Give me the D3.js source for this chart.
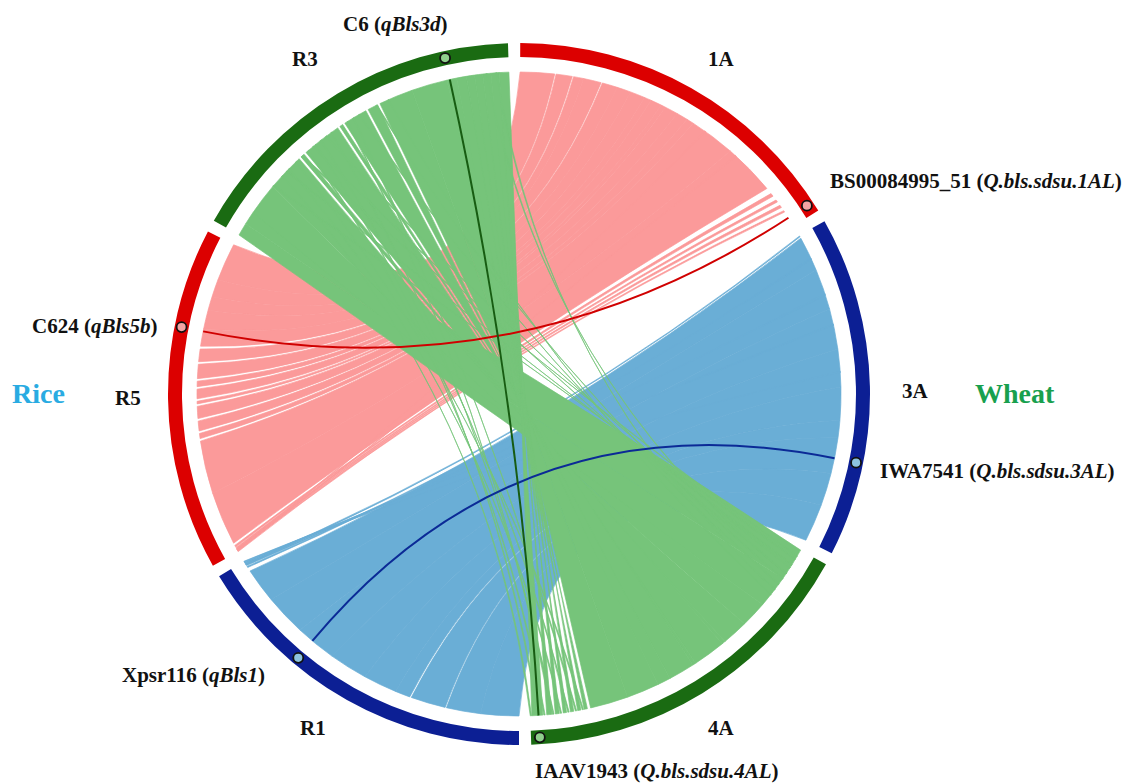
<!DOCTYPE html>
<html>
<head>
<meta charset="utf-8">
<script src="https://cdn.jsdelivr.net/npm/d3@7"></script>
<style>
  body { margin: 0; background: #fff; }
  text { font-family: "Liberation Serif", "Times New Roman", serif; font-weight: bold; }
</style>
</head>
<body>
<div id="chart"></div>
<script>
var chromNames = ["1A", "3A", "4A", "R1", "R5", "R3"];
var chromSizes = [58.3, 56.5, 59.0, 58.7, 56.9, 58.6];
var chromGroup = ["red", "blue", "green", "blue", "red", "green"];

// syntenic blocks, % along each chromosome: [src0, src1, tgt0, tgt1]
// src0 pairs with tgt0 and src1 with tgt1 (tgt0 > tgt1 = inverted block)
var links1A_R5 = [
  [0, 10.6, 100, 88], [11.0, 16, 88, 82.4], [16.4, 19.5, 82.4, 78],
  [19.5, 25, 78, 72], [25.4, 30.1, 72, 66.5], [30.1, 34.4, 65.6, 61.6],
  [34.4, 39.0, 60.8, 56.3], [39.0, 41.2, 55.5, 53.8], [41.2, 44.6, 53.0, 50.0],
  [44.6, 46.0, 49.2, 48.4], [46.0, 50.1, 47.6, 43.8], [50.1, 53.6, 43.0, 39.9],
  [53.6, 55.8, 39.1, 37.5], [55.8, 70, 36.7, 20], [70, 86, 20, 3],
  // thin strands near the end of 1A
  [88, 89, 2.2, 1.6], [90.5, 91.2, 1.4, 1.0], [92.5, 93.3, 0.9, 0.5], [94.5, 95.0, 0.4, 0.0],
  [60, 60.5, 1.0, 0.6], [72, 72.5, 0.5, 0.2]
];
var links3A_R1 = [
  [1, 12, 96.5, 85.8], [12, 25, 85.8, 73], [25, 38, 73, 60.5],
  [38, 50, 60.5, 48.7], [50, 60.5, 48.7, 38.4], [60.5, 66, 38.4, 33.8],
  [66, 77.5, 33.3, 22.6], [77.5, 88, 22.2, 11.7], [88, 100, 11.7, 0],
  // thin strands near the start of 3A
  [0.2, 0.5, 99.3, 98.8], [8, 8.5, 98.2, 97.8], [20, 20.6, 99, 98.5],
  [30, 30.5, 99.7, 99.3], [45, 45.5, 100, 99.7]
];
var linksR3_4A = [
  [0, 4, 20, 10], [4, 8, 10, 0],
  [8, 18, 20, 28], [18, 29.6, 28, 36], [30.4, 31.6, 36, 37], [32.4, 44.6, 37, 47],
  [45.4, 46.4, 47, 48], [47.2, 54.6, 48, 56], [55.4, 58.6, 56, 60],
  [59.4, 70, 60, 70], [70, 81, 70, 81.6],
  [81, 84, 82.6, 83.6], [84, 87, 84.6, 85.6], [87, 89.5, 86.8, 87.8],
  [89.5, 92, 89.0, 90.0], [92, 94.5, 91.2, 92.4], [94.5, 97, 93.6, 95.0],
  [97, 100, 96.2, 99.5],
  // scattered strands crossing the centre
  [25, 25.5, 90.5, 90.9], [33, 33.5, 95.5, 95.9], [38, 38.5, 88.2, 88.6],
  [42, 42.4, 92.8, 93.1], [50, 50.5, 85.9, 86.3], [22, 22.4, 99.6, 100],
  [28, 28.5, 83.8, 84.2], [36, 36.4, 97.5, 97.9], [48, 48.4, 93.2, 93.5],
  [18, 18.5, 3, 3.4], [24, 24.4, 5, 5.4], [30.5, 31, 2, 2.4], [35, 35.4, 8, 8.4],
  [40, 40.5, 6, 6.4], [52, 52.4, 12, 12.4], [58, 58.4, 10, 10.4], [62, 62.4, 16, 16.4],
  [93, 93.4, 8, 8.4], [96, 96.4, 14, 14.4]
];

// QTL markers: chromosome, position (%), marker name, QTL name
var qtlChrom = ["R3", "1A", "R5", "3A", "R1", "4A"];
var qtlPos = [81.9, 97.1, 71.2, 72.6, 68.0, 97.5];
var qtlMarker = ["C6", "BS00084995_51", "C624", "IWA7541", "Xpsr116", "IAAV1943"];
var qtlName = ["qBls3d", "Q.bls.sdsu.1AL", "qBls5b", "Q.bls.sdsu.3AL", "qBls1", "Q.bls.sdsu.4AL"];
// pairs of QTL indices joined by a highlight line
var qtlPairs = [[2, 1], [4, 3], [0, 5]];

var speciesNames = ["Rice", "Wheat"];

// ---- layout ----
var cx = 519, cy = 394;
var ringOuter = 351, ringInner = 337, chordR = 322;
var gapDeg = 2, offsetDeg = 0.2;
var HP = Math.PI / 2, TAU = Math.PI * 2;
var rad = Math.PI / 180;

var ringColor = { red: "#dc0000", blue: "#0c1f94", green: "#1a6b12" };
var linkColor = { red: "#fb9a9a", blue: "#6aaed6", green: "#76c47a" };
var lineColor = { red: "#d00000", blue: "#0b2a96", green: "#175c12" };
var dotColor = { red: "#f4a3a3", blue: "#8cc3df", green: "#8fcf8c" };
// bezier control radius (circos style, along the bisector of the shorter arc)
var bezierR = { red: 50, blue: 50, green: 30 };
// links closer than this to a diameter get their control point pulled to the centre
var purityDeg = { red: 0, blue: 0, green: 6 };

var total = d3.sum(chromSizes);
var unit = (360 - gapDeg * chromNames.length) / total;

// one linear scale per chromosome: % position -> angle (radians, 0 at top, clockwise)
var chromScale = {};
var acc = offsetDeg;
chromNames.forEach(function(name, i) {
  var a0 = acc, a1 = acc + chromSizes[i] * unit;
  chromScale[name] = d3.scaleLinear().domain([0, 100]).range([a0 * rad, a1 * rad]);
  acc = a1 + gapDeg;
});

var svg = d3.select("#chart")
  .append("svg")
  .attr("width", 1128)
  .attr("height", 784)
  .style("background", "#fff");

var g = svg.append("g").attr("transform", "translate(" + cx + "," + cy + ")");

function pt(a, r) { return [r * Math.sin(a), -r * Math.cos(a)]; }

function ctrl(a, b, grp) {
  var rb = bezierR[grp];
  var d = ((b - a) % TAU + TAU) % TAU;
  var span = d > Math.PI ? TAU - d : d;
  var mid = d > Math.PI ? a - span / 2 : a + span / 2;
  if (purityDeg[grp]) {
    rb *= Math.min(1, (Math.PI - span) / (purityDeg[grp] * rad));
  }
  return pt(mid, rb);
}

// ribbon: source arc s0->s1, curve s1->t1, target arc t1->t0, curve t0->s0
function linkPath(s0, s1, t0, t1, grp) {
  var p = d3.path();
  var ps0 = pt(s0, chordR), pt1 = pt(t1, chordR), c;
  p.moveTo(ps0[0], ps0[1]);
  p.arc(0, 0, chordR, s0 - HP, s1 - HP);
  c = ctrl(s1, t1, grp);
  p.quadraticCurveTo(c[0], c[1], pt1[0], pt1[1]);
  p.arc(0, 0, chordR, t1 - HP, t0 - HP, t0 < t1);
  c = ctrl(t0, s0, grp);
  p.quadraticCurveTo(c[0], c[1], ps0[0], ps0[1]);
  p.closePath();
  return p.toString();
}

function drawLinks(data, src, tgt, grp) {
  var sS = chromScale[src], tS = chromScale[tgt];
  g.append("g").selectAll("path")
    .data(data)
    .enter()
    .append("path")
    .attr("d", function(d) { return linkPath(sS(d[0]), sS(d[1]), tS(d[2]), tS(d[3]), grp); })
    .attr("fill", linkColor[grp])
    .attr("stroke", linkColor[grp])
    .attr("stroke-width", 0.7);
}

drawLinks(links1A_R5, "1A", "R5", "red");
drawLinks(links3A_R1, "3A", "R1", "blue");
drawLinks(linksR3_4A, "R3", "4A", "green");

// highlight lines between QTLs
qtlPairs.forEach(function(pair) {
  var a = chromScale[qtlChrom[pair[0]]](qtlPos[pair[0]]);
  var b = chromScale[qtlChrom[pair[1]]](qtlPos[pair[1]]);
  var pa = pt(a, chordR), pb = pt(b, chordR);
  var p = d3.path();
  p.moveTo(pa[0], pa[1]);
  p.quadraticCurveTo(0, 0, pb[0], pb[1]);
  var grp = chromGroup[chromNames.indexOf(qtlChrom[pair[0]])];
  g.append("path")
    .attr("d", p.toString())
    .attr("fill", "none")
    .attr("stroke", lineColor[grp])
    .attr("stroke-width", 2);
});

// chromosome ring
var arc = d3.arc().innerRadius(ringInner).outerRadius(ringOuter);
g.append("g").selectAll("path")
  .data(chromNames)
  .enter()
  .append("path")
  .attr("d", function(d) {
    var r = chromScale[d].range();
    return arc({ startAngle: r[0], endAngle: r[1] });
  })
  .attr("fill", function(d, i) { return ringColor[chromGroup[i]]; });

// QTL dots on the ring
var dotR = (ringInner + ringOuter) / 2;
g.append("g").selectAll("circle")
  .data(qtlChrom)
  .enter()
  .append("circle")
  .attr("cx", function(d, i) { return pt(chromScale[d](qtlPos[i]), dotR)[0]; })
  .attr("cy", function(d, i) { return pt(chromScale[d](qtlPos[i]), dotR)[1]; })
  .attr("r", 5)
  .attr("fill", function(d) { return dotColor[chromGroup[chromNames.indexOf(d)]]; })
  .attr("stroke", "#111")
  .attr("stroke-width", 1.8);

// labels (x, baseline) in page coordinates
var chromLabelPos = { "1A": [708, 66], "3A": [902, 398], "4A": [708, 735], "R1": [300, 735], "R5": [115, 405], "R3": [292, 66] };
var qtlLabelPos = [[343, 31], [830, 188], [32, 333], [880, 478], [122, 682], [535, 778]];
var speciesPos = [[12, 403], [975, 403]];
var speciesColor = ["#29abe2", "#18a04e"];

chromNames.forEach(function(name) {
  svg.append("text")
    .attr("x", chromLabelPos[name][0])
    .attr("y", chromLabelPos[name][1])
    .style("font-size", "21px")
    .attr("fill", "#111")
    .text(name);
});

qtlMarker.forEach(function(m, i) {
  var t = svg.append("text")
    .attr("x", qtlLabelPos[i][0])
    .attr("y", qtlLabelPos[i][1])
    .style("font-size", "21px")
    .attr("fill", "#111");
  t.append("tspan").text(m + " (");
  t.append("tspan").style("font-style", "italic").text(qtlName[i]);
  t.append("tspan").text(")");
});

speciesNames.forEach(function(s, i) {
  svg.append("text")
    .attr("x", speciesPos[i][0])
    .attr("y", speciesPos[i][1])
    .style("font-size", "28px")
    .attr("fill", speciesColor[i])
    .text(s);
});
</script>
</body>
</html>
